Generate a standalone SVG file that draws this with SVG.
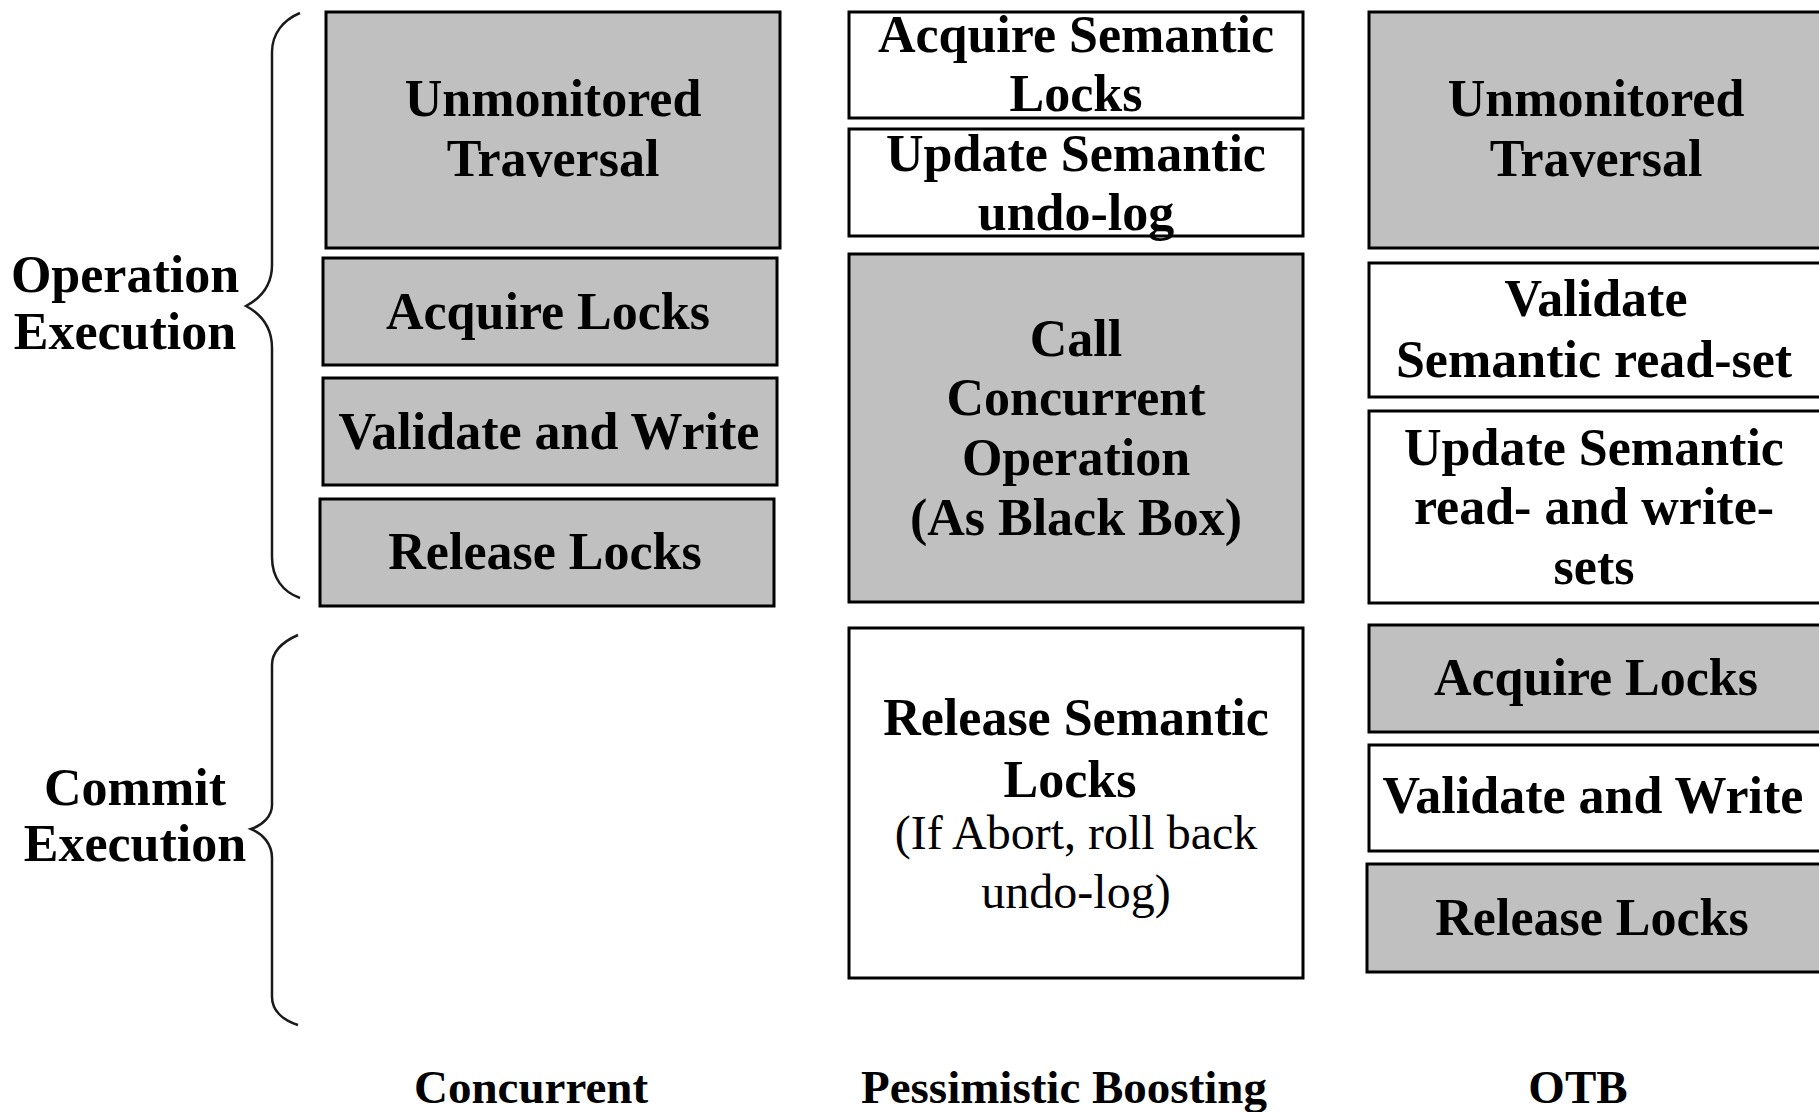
<svg xmlns="http://www.w3.org/2000/svg" width="1819" height="1112" viewBox="0 0 1819 1112">
<style>
.g{fill:#c0c0c0;stroke:#000;stroke-width:3}
.w{fill:#fff;stroke:#000;stroke-width:3}
text{font-family:"Liberation Serif","Times New Roman",serif;text-anchor:middle;fill:#000}
.b{font-weight:bold;font-size:52px}
.r{font-weight:normal;font-size:48px}
.lab{font-weight:bold;font-size:47px}
.brace{fill:none;stroke:#1a1a1a;stroke-width:2.5}
</style>
<rect width="1819" height="1112" fill="#fff"/>
<g id="labels">
<text class="b" x="125" y="292">Operation</text>
<text class="b" x="125" y="349">Execution</text>
<text class="b" x="135" y="805">Commit</text>
<text class="b" x="135" y="861">Execution</text>
<text class="lab" x="531" y="1103">Concurrent</text>
<text class="lab" x="1064" y="1103">Pessimistic Boosting</text>
<text class="lab" x="1578" y="1103">OTB</text>
</g>
<g id="connectors">
<path class="brace" d="M300,13 C283,20 272,34 272,52 L272,265 C272,285 261,298 246,306 C261,314 272,327 272,348 L272,557 C272,578 283,592 300,598"/>
<path class="brace" d="M298,635 C282,642 272,652 272,665 L272,805 C272,816 263,825 251,829 C263,834 272,844 272,858 L272,997 C272,1010 282,1020 298,1025"/>
</g>
<g id="c1-unmonitored"><rect class="g" x="326" y="12" width="454" height="236"/><text class="b" x="553" y="116">Unmonitored</text><text class="b" x="553" y="176">Traversal</text></g>
<g id="c1-acquire"><rect class="g" x="323" y="258" width="454" height="107"/><text class="b" x="548" y="329">Acquire Locks</text></g>
<g id="c1-validate"><rect class="g" x="323" y="378" width="454" height="107"/><text class="b" x="549" y="449">Validate and Write</text></g>
<g id="c1-release"><rect class="g" x="320" y="499" width="454" height="107"/><text class="b" x="545" y="569">Release Locks</text></g>
<g id="c2-acquire-sem"><rect class="w" x="849" y="12" width="454" height="106"/><text class="b" x="1076" y="52">Acquire Semantic</text><text class="b" x="1076" y="111">Locks</text></g>
<g id="c2-update-undo"><rect class="w" x="849" y="129" width="454" height="107"/><text class="b" x="1076" y="171">Update Semantic</text><text class="b" x="1076" y="230">undo-log</text></g>
<g id="c2-call"><rect class="g" x="849" y="254" width="454" height="348"/><text class="b" x="1076" y="356">Call</text><text class="b" x="1076" y="415">Concurrent</text><text class="b" x="1076" y="475">Operation</text><text class="b" x="1076" y="535">(As Black Box)</text></g>
<g id="c2-release-sem"><rect class="w" x="849" y="628" width="454" height="350"/><text class="b" x="1076" y="735">Release Semantic</text><text class="b" x="1070" y="797">Locks</text><text class="r" x="1076" y="849">(If Abort, roll back</text><text class="r" x="1076" y="908">undo-log)</text></g>
<g id="c3-unmonitored"><rect class="g" x="1369" y="12" width="454" height="236"/><text class="b" x="1596" y="116">Unmonitored</text><text class="b" x="1596" y="176">Traversal</text></g>
<g id="c3-validate-sem"><rect class="w" x="1369" y="263" width="454" height="134"/><text class="b" x="1596" y="316">Validate</text><text class="b" x="1594" y="377">Semantic read-set</text></g>
<g id="c3-update-sets"><rect class="w" x="1369" y="411" width="454" height="192"/><text class="b" x="1594" y="465">Update Semantic</text><text class="b" x="1594" y="524">read- and write-</text><text class="b" x="1594" y="584">sets</text></g>
<g id="c3-acquire"><rect class="g" x="1369" y="625" width="454" height="107"/><text class="b" x="1596" y="695">Acquire Locks</text></g>
<g id="c3-validate"><rect class="w" x="1369" y="745" width="454" height="106"/><text class="b" x="1593" y="813">Validate and Write</text></g>
<g id="c3-release"><rect class="g" x="1367" y="864" width="454" height="108"/><text class="b" x="1592" y="935">Release Locks</text></g>
</svg>
